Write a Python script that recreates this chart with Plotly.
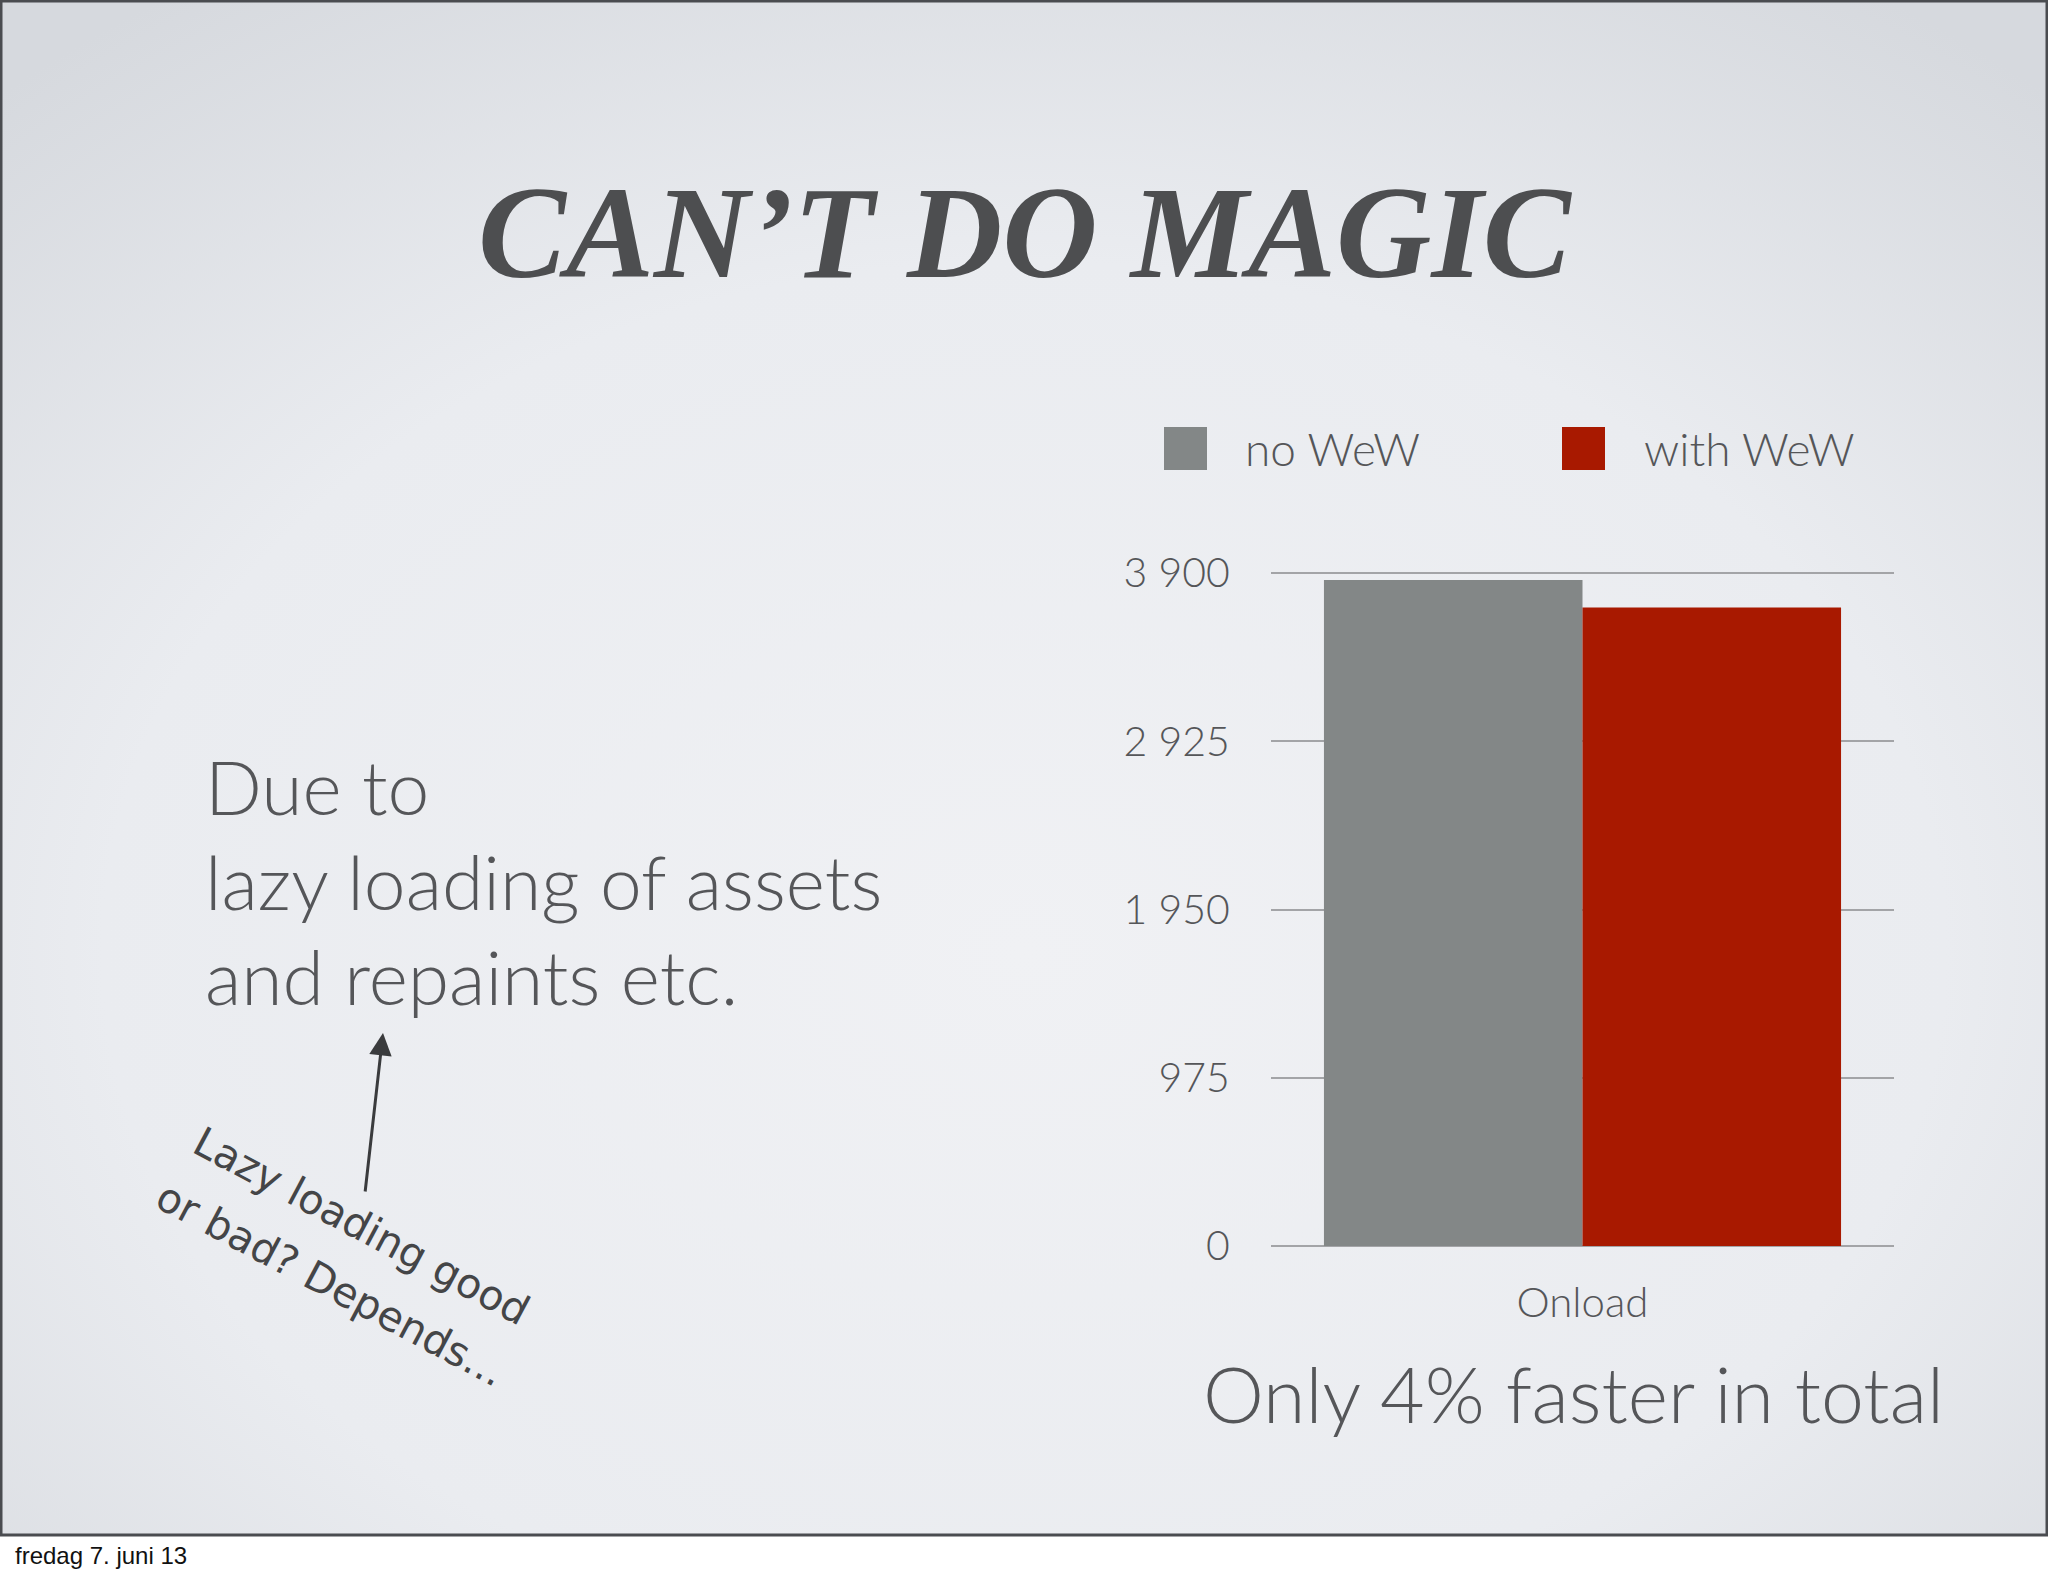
import base64
import plotly.graph_objects as go

# ---- data ----
categories = ["Onload"]
series_names = ["no WeW", "with WeW"]
no_wew = [3860]
with_wew = [3700]
series_colors = ["#838787", "#a81900"]
tick_vals = [0, 975, 1950, 2925, 3900]
tick_text = ["0", "975", "1 950", "2 925", "3 900"]

W, H = 2048, 1576


def px(x):
    return x / W


def py(y):
    return 1 - y / H


TXT = "#555659"
FONT = "Lato"

fig = go.Figure()
for name, vals, col in zip(series_names, [no_wew, with_wew], series_colors):
    fig.add_trace(go.Bar(x=categories, y=vals, name=name, marker=dict(color=col, line=dict(width=0)),
                         showlegend=False, hoverinfo="skip"))

# background gradient (svg)
svg = f'''<svg xmlns="http://www.w3.org/2000/svg" width="{W}" height="{H}" viewBox="0 0 {W} {H}">
<defs><radialGradient id="g" cx="50%" cy="62%" r="75%">
<stop offset="0" stop-color="#f0f1f4"/><stop offset="0.6" stop-color="#eaecf0"/><stop offset="1" stop-color="#d6d9de"/>
</radialGradient></defs><rect width="{W}" height="{H}" fill="url(#g)"/></svg>'''
src = "data:image/svg+xml;base64," + base64.b64encode(svg.encode()).decode()

x0, x1 = 1271, 1894
y_zero, y_top = 1246, 573
ymax = 4000
scale = (y_zero - y_top) / 3900
ytop_px = y_zero - ymax * scale

fig.update_layout(
    width=W, height=H,
    margin=dict(l=0, r=0, t=0, b=0, pad=0, autoexpand=False),
    paper_bgcolor="white",
    plot_bgcolor="rgba(0,0,0,0)",
    barmode="group", bargap=0.17, bargroupgap=0,
    images=[dict(source=src, xref="paper", yref="paper", x=0, y=1, sizex=1, sizey=1536 / H,
                 sizing="stretch", layer="below", xanchor="left", yanchor="top")],
    xaxis=dict(domain=[px(x0), px(x1)], showgrid=False, zeroline=False, showline=False, automargin=False,
               ticks="outside", ticklen=20, tickcolor="rgba(0,0,0,0)",
               tickfont=dict(family=FONT, size=42, color=TXT, weight=300)),
    yaxis=dict(domain=[py(y_zero), py(ytop_px)], range=[0, ymax], tickvals=tick_vals, ticktext=tick_text,
               automargin=False,
               showgrid=True, gridcolor="#a3a4a7", gridwidth=2, zeroline=True, zerolinecolor="#a3a4a7",
               zerolinewidth=2, showline=False, ticks="outside", ticklen=32, tickcolor="rgba(0,0,0,0)",
               tickfont=dict(family=FONT, size=41, color=TXT, weight=300)),
)

shapes = [
    # slide frame
    dict(type="rect", xref="paper", yref="paper", x0=px(1), x1=px(2047), y0=py(1535), y1=py(1),
         line=dict(color="#4a4c50", width=3), fillcolor="rgba(0,0,0,0)"),
    # legend swatches
    dict(type="rect", xref="paper", yref="paper", x0=px(1164), x1=px(1207), y0=py(470), y1=py(427),
         line=dict(width=0), fillcolor=series_colors[0]),
    dict(type="rect", xref="paper", yref="paper", x0=px(1562), x1=px(1605), y0=py(470), y1=py(427),
         line=dict(width=0), fillcolor=series_colors[1]),
]
fig.update_layout(shapes=shapes)

ann = []
ann.append(dict(text="<b><i>CAN’T DO MAGIC</i></b>", x=px(1025), y=py(232), xref="paper", yref="paper",
                showarrow=False, xanchor="center", yanchor="middle",
                font=dict(family="Liberation Serif", size=132, color="#4d4e50")))
ann.append(dict(text=series_names[0], x=px(1243), y=py(449), xref="paper", yref="paper", showarrow=False,
                xanchor="left", yanchor="middle", font=dict(family=FONT, size=46, color=TXT, weight=300)))
ann.append(dict(text=series_names[1], x=px(1642), y=py(449), xref="paper", yref="paper", showarrow=False,
                xanchor="left", yanchor="middle", font=dict(family=FONT, size=46, color=TXT, weight=300)))
for i, line in enumerate(["Due to", "lazy loading of assets", "and repaints etc."]):
    ann.append(dict(text=line, x=px(203), y=py(786 + 95 * i), xref="paper", yref="paper", showarrow=False,
                    xanchor="left", yanchor="middle", font=dict(family=FONT, size=75, color=TXT, weight=300)))
ann.append(dict(text="Only 4% faster in total", x=px(1573), y=py(1393), xref="paper", yref="paper",
                showarrow=False, xanchor="center", yanchor="middle",
                font=dict(family=FONT, size=77, color=TXT, weight=300)))
# arrow (tail offset in pixels)
ann.append(dict(text="", x=px(383), y=py(1033), xref="paper", yref="paper", ax=365 - 383, ay=1193 - 1033,
                showarrow=True, arrowhead=2, arrowsize=1.5, arrowwidth=3, arrowcolor="#3a3b3d"))
# handwritten note
ann.append(dict(text="Lazy loading good", x=px(361), y=py(1226), xref="paper", yref="paper", showarrow=False,
                textangle=28, xanchor="center", yanchor="middle",
                font=dict(family="DejaVu Sans", size=41, color="#444547")))
ann.append(dict(text="or bad? Depends...", x=px(330), y=py(1284), xref="paper", yref="paper", showarrow=False,
                textangle=28, xanchor="center", yanchor="middle",
                font=dict(family="DejaVu Sans", size=41, color="#444547")))
# footer date
ann.append(dict(text="fredag 7. juni 13", x=px(13), y=py(1555), xref="paper", yref="paper", showarrow=False,
                xanchor="left", yanchor="middle", font=dict(family="Liberation Sans", size=24, color="#111")))
fig.update_layout(annotations=ann)

fig.write_html(
    "out.html",
    config={"displayModeBar": False},
    post_script=("var d=document.getElementById('{plot_id}');"
                 "d.style.position='fixed';d.style.top='0px';d.style.left='0px';"
                 "document.body.style.margin='0';document.documentElement.style.overflow='hidden';"
                 "document.body.style.overflow='hidden';"),
)
